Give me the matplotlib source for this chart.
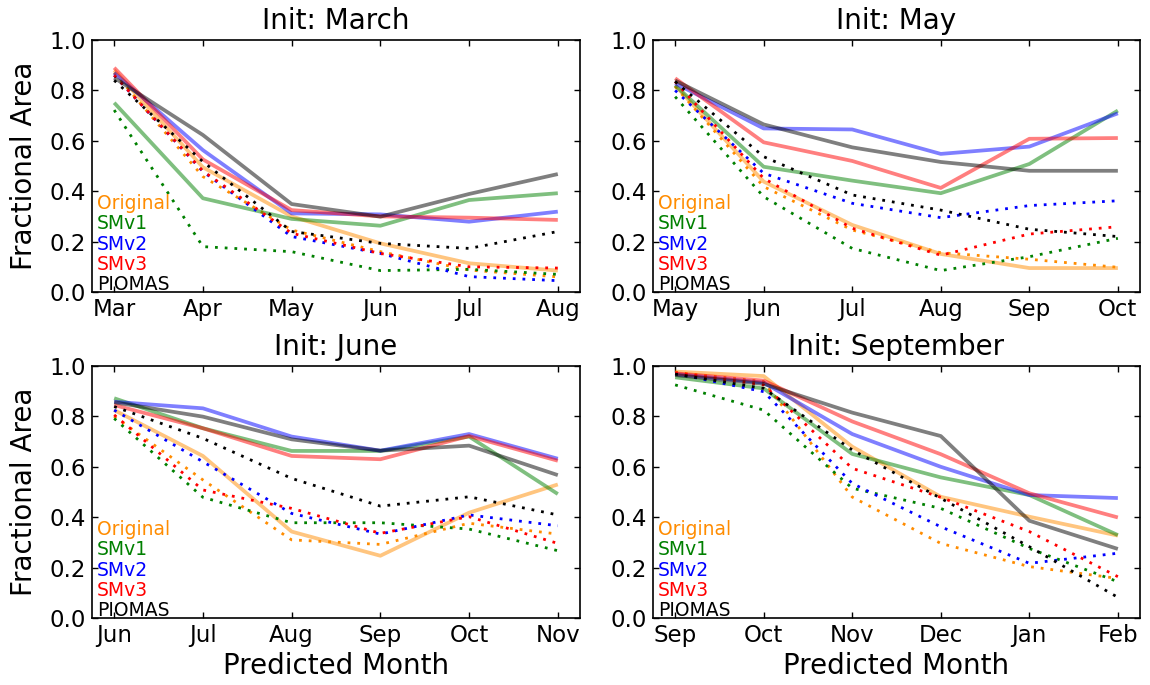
import matplotlib
matplotlib.use('Agg')
import matplotlib.pyplot as plt

# model names (row order of every value table below) and their colours
MODELS = ['Original', 'SMv1', 'SMv2', 'SMv3', 'PIOMAS']
COLORS = ['darkorange', 'green', 'blue', 'red', 'black']

# predicted months for each initialisation
months_mar = ['Mar', 'Apr', 'May', 'Jun', 'Jul', 'Aug']
months_may = ['May', 'Jun', 'Jul', 'Aug', 'Sep', 'Oct']
months_jun = ['Jun', 'Jul', 'Aug', 'Sep', 'Oct', 'Nov']
months_sep = ['Sep', 'Oct', 'Nov', 'Dec', 'Jan', 'Feb']

# fractional area, solid lines (one row per model)
mar_solid = [
    [0.88, 0.495, 0.30, 0.193, 0.114, 0.085],
    [0.751, 0.372, 0.29, 0.263, 0.365, 0.392],
    [0.87, 0.563, 0.312, 0.308, 0.279, 0.319],
    [0.89, 0.526, 0.325, 0.30, 0.295, 0.286],
    [0.85, 0.623, 0.349, 0.299, 0.389, 0.468],
]
# fractional area, dotted lines (one row per model)
mar_dotted = [
    [0.87, 0.458, 0.246, 0.16, 0.087, 0.06],
    [0.722, 0.18, 0.16, 0.085, 0.09, 0.07],
    [0.86, 0.478, 0.22, 0.153, 0.061, 0.045],
    [0.86, 0.48, 0.233, 0.153, 0.10, 0.095],
    [0.84, 0.517, 0.24, 0.193, 0.173, 0.24],
]

may_solid = [
    [0.82, 0.438, 0.266, 0.151, 0.095, 0.095],
    [0.82, 0.497, 0.442, 0.392, 0.508, 0.72],
    [0.828, 0.649, 0.645, 0.548, 0.577, 0.709],
    [0.848, 0.594, 0.52, 0.413, 0.608, 0.611],
    [0.839, 0.665, 0.574, 0.516, 0.481, 0.481],
]
may_dotted = [
    [0.815, 0.418, 0.246, 0.156, 0.13, 0.098],
    [0.775, 0.378, 0.173, 0.085, 0.14, 0.213],
    [0.80, 0.471, 0.352, 0.295, 0.343, 0.362],
    [0.835, 0.451, 0.253, 0.146, 0.23, 0.259],
    [0.835, 0.537, 0.385, 0.325, 0.249, 0.22],
]

jun_solid = [
    [0.825, 0.643, 0.343, 0.247, 0.418, 0.53],
    [0.872, 0.753, 0.663, 0.663, 0.72, 0.492],
    [0.858, 0.832, 0.72, 0.664, 0.73, 0.632],
    [0.845, 0.753, 0.643, 0.63, 0.722, 0.624],
    [0.856, 0.799, 0.709, 0.664, 0.684, 0.567],
]
jun_dotted = [
    [0.80, 0.548, 0.31, 0.292, 0.376, 0.333],
    [0.792, 0.479, 0.378, 0.378, 0.353, 0.267],
    [0.825, 0.62, 0.415, 0.333, 0.409, 0.366],
    [0.806, 0.508, 0.435, 0.336, 0.402, 0.296],
    [0.839, 0.713, 0.554, 0.444, 0.481, 0.409],
]

sep_solid = [
    [0.978, 0.96, 0.68, 0.481, 0.402, 0.327],
    [0.955, 0.911, 0.651, 0.558, 0.488, 0.329],
    [0.968, 0.934, 0.73, 0.60, 0.488, 0.476],
    [0.971, 0.942, 0.78, 0.65, 0.495, 0.399],
    [0.964, 0.929, 0.815, 0.722, 0.386, 0.274],
]
sep_dotted = [
    [0.975, 0.938, 0.48, 0.296, 0.204, 0.157],
    [0.925, 0.825, 0.515, 0.435, 0.276, 0.144],
    [0.97, 0.898, 0.534, 0.362, 0.217, 0.257],
    [0.973, 0.925, 0.594, 0.479, 0.343, 0.164],
    [0.968, 0.911, 0.667, 0.475, 0.283, 0.082],
]

yticks = [0.0, 0.2, 0.4, 0.6, 0.8, 1.0]


def draw_panel(ax, title, months, solid, dotted, left_col, bottom_row):
    x = list(range(len(months)))
    for i, color in enumerate(COLORS):
        ax.plot(x, solid[i], color=color, alpha=0.5, linewidth=2.7,
                solid_capstyle='butt')
        ax.plot(x, dotted[i], color=color, linewidth=2.0,
                linestyle=(0, (1, 2.5)))

    ax.set_xlim(-0.25, 5.25)
    ax.set_ylim(0, 1)
    ax.set_xticks(x)
    ax.set_xticklabels(months)
    ax.set_yticks(yticks)
    ax.set_yticklabels(['%.1f' % v for v in yticks])
    ax.tick_params(direction='in', top=True, right=True, length=4.3,
                   width=1, labelsize=16.5, pad=4.5)
    for sp in ax.spines.values():
        sp.set_linewidth(1.2)
    ax.set_title(title, fontsize=20, pad=8)

    # model names in their colours, stacked in the lower left corner
    for i, (name, color) in enumerate(zip(MODELS, COLORS)):
        ax.annotate(name, xy=(0, 0), xycoords='axes fraction',
                    xytext=(5, 2 + (len(MODELS) - 1 - i) * 20.25),
                    textcoords='offset pixels', color=color,
                    fontsize=13.5, ha='left', va='baseline')

    if left_col:
        ax.set_ylabel('Fractional Area', fontsize=20)
        ax.yaxis.set_label_coords(-0.111, 0.5)
    if bottom_row:
        ax.set_xlabel('Predicted Month', fontsize=20)
        ax.xaxis.set_label_coords(0.5, -0.135)


fig = plt.figure(figsize=(11.5, 6.85), dpi=100)

W, H = 1150.0, 685.0
# axes rectangles in pixels: left, top, width, height
ax_tl = fig.add_axes([92 / W, 1 - 292 / H, 488 / W, 252 / H])
ax_tr = fig.add_axes([653 / W, 1 - 292 / H, 487 / W, 252 / H])
ax_bl = fig.add_axes([92 / W, 1 - 618 / H, 488 / W, 252 / H])
ax_br = fig.add_axes([653 / W, 1 - 618 / H, 487 / W, 252 / H])

draw_panel(ax_tl, 'Init: March', months_mar, mar_solid, mar_dotted, True, False)
draw_panel(ax_tr, 'Init: May', months_may, may_solid, may_dotted, False, False)
draw_panel(ax_bl, 'Init: June', months_jun, jun_solid, jun_dotted, True, True)
draw_panel(ax_br, 'Init: September', months_sep, sep_solid, sep_dotted, False, True)

fig.savefig('out.png', dpi=100)
